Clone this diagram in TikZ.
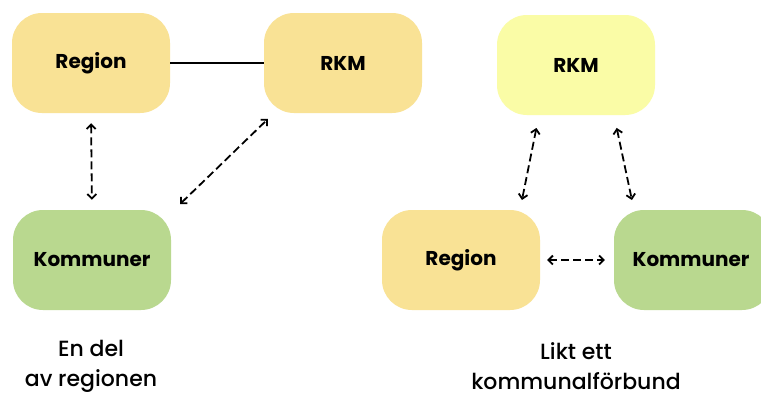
\documentclass[tikz,border=0pt]{standalone}
\usepackage{fontspec}
\setmainfont{Poppins}
\newfontfamily\captionfont{Poppins Medium}
\usetikzlibrary{arrows.meta}

\definecolor{sand}{HTML}{F9E295}
\definecolor{lemon}{HTML}{FAFCA6}
\definecolor{leaf}{HTML}{B9D88F}

\tikzset{
  box/.style={rounded corners=30pt, minimum width=158pt, minimum height=100pt,
    inner sep=0pt, font=\bfseries\fontsize{20}{22}\selectfont},
  link/.style={line width=1.8pt, dash pattern=on 8pt off 4pt,
    {Straight Barb[length=4.5pt,width=9pt]}-{Straight Barb[length=4.5pt,width=9pt]}},
  caption/.style={align=center, font=\captionfont\fontsize{22}{30}\selectfont}
}

\begin{document}
\begin{tikzpicture}[x=1pt,y=-1pt]
  \clip (0,0) rectangle (761,392);
  \fill[white] (0,0) rectangle (761,392);

  % first arrangement
  \node[box, fill=sand] (regL) at (91,63) {Region};
  \node[box, fill=sand] (rkmL) at (343,63) {RKM};
  \node[box, fill=leaf] (komL) at (92,260) {Kommuner};

  \draw[line width=1.8pt] (regL.east) -- (rkmL.west);
  \draw[link, shorten <=10pt, shorten >=10pt] (regL.south) -- (komL.north);
  \draw[link, shorten <=4pt, shorten >=4pt]
    ([xshift=6pt,yshift=3pt]komL.north east) -- ([xshift=7pt,yshift=-3pt]rkmL.south west);

  \node[caption] (capL) at (91,366) {En del\\av regionen};

  % second arrangement
  \node[box, fill=lemon] (rkmR) at (576,65) {RKM};
  \node[box, fill=sand] (regR) at (461,260) {Region};
  \node[box, fill=leaf] (komR) at (693,260) {\hspace*{-4pt}Kommuner};

  \draw[link, shorten <=13pt, shorten >=10pt]
    ([xshift=-37pt]rkmR.south) -- ([xshift=59pt]regR.north);
  \draw[link, shorten <=13pt, shorten >=10pt]
    ([xshift=38pt]rkmR.south) -- ([xshift=-59pt]komR.north);
  \draw[link, shorten <=7pt, shorten >=9pt] (regR.east) -- (komR.west);

  \node[caption] (capR) at (576,366) {Likt ett\\kommunalförbund};
\end{tikzpicture}
\end{document}
